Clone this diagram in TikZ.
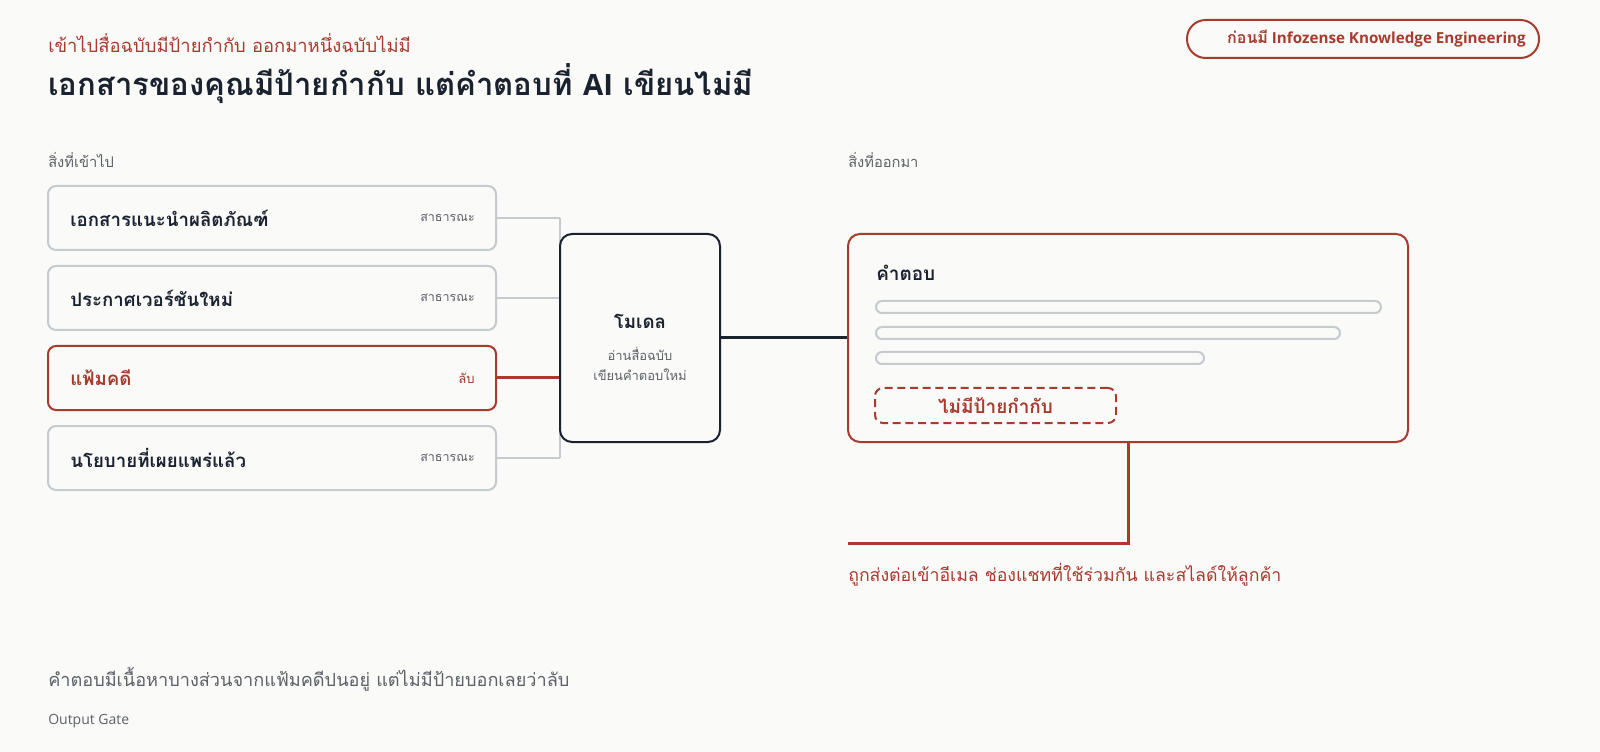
\documentclass[tikz,border=0pt]{standalone}
\usepackage{fontspec}
\setmainfont{Open Sans}
\newfontfamily\thai[Script=Thai]{Loma}
\usetikzlibrary{calc}
\definecolor{bg}{HTML}{FAFAF8}
\definecolor{accent}{HTML}{A83A2E}
\definecolor{ink}{HTML}{1A2230}
\definecolor{lineg}{HTML}{C5CACE}
\definecolor{muted}{HTML}{5C6168}
\newcommand{\fs}[1]{\fontsize{#1}{#1}\selectfont}
\tikzset{
  inbox/.style={draw=lineg, line width=1.5pt, rounded corners=6pt, fill=bg, minimum width=336pt, minimum height=48pt, inner sep=0pt},
  secbox/.style={inbox, draw=accent},
  modelbox/.style={draw=ink, line width=1.5pt, rounded corners=9pt, fill=bg, minimum width=120pt, minimum height=156pt, inner sep=0pt},
  ansbox/.style={draw=accent, line width=1.5pt, rounded corners=9pt, fill=bg, minimum width=420pt, minimum height=156pt, inner sep=0pt},
  bar/.style={draw=lineg, line width=1.5pt, rounded corners=4.5pt},
  conn/.style={draw=lineg, line width=1.5pt},
  txt/.style={inner sep=0pt, anchor=west},
}
\begin{document}
\begin{tikzpicture}[x=0.75pt, y=-0.75pt]
\fill[bg] (0,0) rectangle (1600,752);
\useasboundingbox (0,0) rectangle (1600,752);

% header
\node[txt, text=accent] (sub) at (48,43) {\thai\fs{13.8}เข้าไปสื่อฉบับมีป้ายกำกับ ออกมาหนึ่งฉบับไม่มี};
\node[txt, text=ink] (title) at (48,84) {\thai\bfseries\fs{23.3}เอกสารของคุณมีป้ายกำกับ แต่คำตอบที่ {\rmfamily\bfseries\fs{22}AI} เขียนไม่มี};
\node[draw=accent, line width=1.5pt, rounded corners=14pt, minimum width=264pt, minimum height=28.5pt, inner sep=0pt] (pill) at (1363,39) {};
\node[txt, anchor=east, text=accent] (pilltxt) at ($(pill.east)+(-14,0)$) {\bfseries\fs{11.4}{\thai\bfseries\fs{12}ก่อนมี} Infozense Knowledge Engineering};

% section labels
\node[txt, text=muted] (inl) at (48,160) {\thai\fs{11}สิ่งที่เข้าไป};
\node[txt, text=muted] (outl) at (848,160) {\thai\fs{11}สิ่งที่ออกมา};

% input boxes
\node[inbox] (i1) at (272,218) {};
\node[inbox] (i2) at (272,298) {};
\node[secbox] (i3) at (272,378) {};
\node[inbox] (i4) at (272,458) {};

\node[txt, text=ink] at ($(i1.west)+(23,0)$) {\thai\bfseries\fs{14}เอกสารแนะนำผลิตภัณฑ์};
\node[txt, text=ink] at ($(i2.west)+(23,0)$) {\thai\bfseries\fs{14}ประกาศเวอร์ชันใหม่};
\node[txt, text=accent] at ($(i3.west)+(23,0)$) {\thai\bfseries\fs{14}แฟ้มคดี};
\node[txt, text=ink] at ($(i4.west)+(23,0)$) {\thai\bfseries\fs{14}นโยบายที่เผยแพร่แล้ว};
\node[txt, anchor=east, text=muted] at ($(i1.east)+(-22,0)$) {\thai\fs{9.4}สาธารณะ};
\node[txt, anchor=east, text=muted] at ($(i2.east)+(-22,0)$) {\thai\fs{9.4}สาธารณะ};
\node[txt, anchor=east, text=accent] at ($(i3.east)+(-22,0)$) {\thai\fs{9.8}ลับ};
\node[txt, anchor=east, text=muted] at ($(i4.east)+(-22,0)$) {\thai\fs{9.4}สาธารณะ};

% model & answer positions
\coordinate (mc) at (640,338);
\coordinate (trunk1) at (560,218);
\coordinate (trunk4) at (560,458);

% connectors into model
\draw[conn] (i1.east) -- (trunk1);
\draw[conn] (i2.east) -- (i2.east -| trunk1);
\draw[conn] (i4.east) -- (trunk4);
\draw[conn] (trunk1) -- (trunk4);
\draw[draw=accent, line width=2.25pt] (i3.east) -- (i3.east -| trunk1);

\node[modelbox] (m) at (mc) {};
\node[inner sep=0pt, text=ink] at (640,321) {\thai\bfseries\fs{14}โมเดล};
\node[inner sep=0pt, text=muted] at (640,354) {\thai\fs{9.7}อ่านสื่อฉบับ};
\node[inner sep=0pt, text=muted] at (640,375) {\thai\fs{9.7}เขียนคำตอบใหม่};

\node[ansbox] (a) at (1128,338) {};
\draw[draw=ink, line width=2.25pt] (m.east) -- (a.west);

\node[txt, text=ink] at (876,273) {\thai\bfseries\fs{14.2}คำตอบ};
\draw[bar] (876,301) rectangle (1381,313);
\draw[bar] (876,327) rectangle (1340,339);
\draw[bar] (876,352) rectangle (1204,364);
\node[draw=accent, line width=1.5pt, dashed, dash pattern=on 6pt off 3.5pt, rounded corners=6pt, minimum width=180.75pt, minimum height=26.25pt, inner sep=0pt] (tag) at (995.5,405.5) {};
\node[inner sep=0pt, text=accent] at (tag.center) {\thai\bfseries\fs{14.2}ไม่มีป้ายกำกับ};

% forwarded
\coordinate (fwd) at (848,543);
\draw[draw=accent, line width=2.25pt] (a.south) |- (fwd);
\node[txt, text=accent] at (848,575) {\thai\fs{13.3}ถูกส่งต่อเข้าอีเมล ช่องแชทที่ใช้ร่วมกัน และสไลด์ให้ลูกค้า};

% footer
\node[txt, text=muted] at (48,679) {\thai\fs{13.6}คำตอบมีเนื้อหาบางส่วนจากแฟ้มคดีปนอยู่ แต่ไม่มีป้ายบอกเลยว่าลับ};
\node[txt, text=muted] at (48,721) {\fs{10.5}Output Gate};
\end{tikzpicture}
\end{document}
